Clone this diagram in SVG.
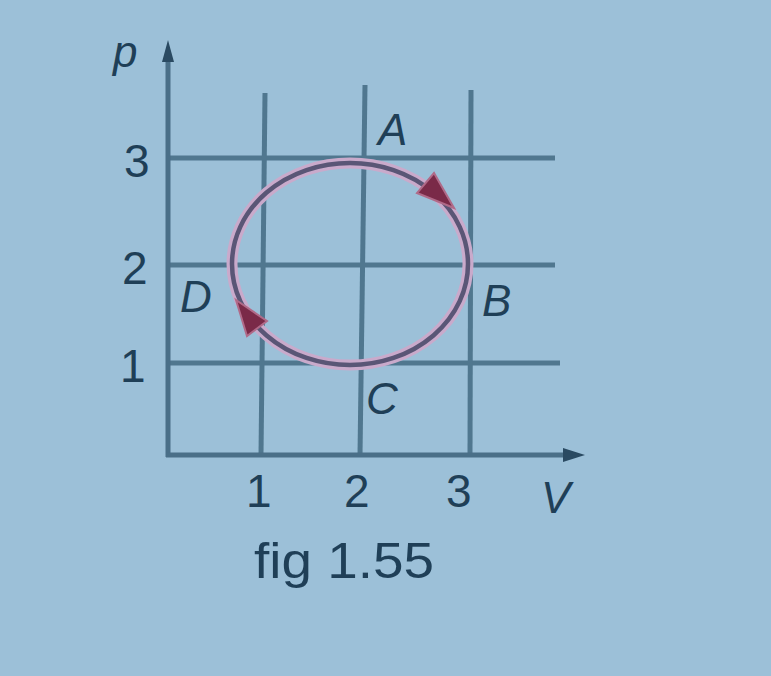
<svg xmlns="http://www.w3.org/2000/svg" width="771" height="676" viewBox="0 0 771 676">
<style>
.grid{stroke:#50778f;stroke-width:5;fill:none;stroke-linecap:butt}
.axis{stroke:#4a6f88;stroke-width:5;fill:none}
.t{font-family:"Liberation Sans",Arial,sans-serif;fill:#1f3f57}
.num{font-size:46px}
.lbl{font-size:44px;font-style:italic}
.cap{font-size:50px}
.arrow{fill:#7a2a48;stroke:#b06a88;stroke-width:2}
</style>
<rect x="0" y="0" width="771" height="676" fill="#9cc0d8"/>
<g id="grid">
<line class="grid" x1="168" y1="158" x2="555" y2="158"/>
<line class="grid" x1="168" y1="265" x2="555" y2="265"/>
<line class="grid" x1="168" y1="363" x2="560" y2="363"/>
<line class="grid" x1="265" y1="93" x2="261" y2="455"/>
<line class="grid" x1="365" y1="85" x2="360" y2="455"/>
<line class="grid" x1="471" y1="90" x2="470" y2="455"/>
</g>
<g id="axes">
<line class="axis" x1="168" y1="55" x2="168" y2="457"/>
<line class="axis" x1="166" y1="455" x2="575" y2="455"/>
<polygon points="168,40 162,62 174,62" fill="#2a4a62"/>
<polygon points="585,455 563,448 563,462" fill="#2a4a62"/>
</g>
<g id="cycle">
<ellipse cx="350" cy="264" rx="118" ry="101" fill="none" stroke="#c9aacb" stroke-width="11"/>
<ellipse cx="350" cy="264" rx="118" ry="101" fill="none" stroke="#5a5676" stroke-width="4.5"/>
<polygon class="arrow" points="454,208 417,193 434,173"/>
<polygon class="arrow" points="236,300 267,321 247,336"/>
</g>
<g id="labels">
<text class="t lbl" x="113" y="67">p</text>
<text class="t num" x="124" y="177">3</text>
<text class="t num" x="122" y="284">2</text>
<text class="t num" x="120" y="382">1</text>
<text class="t lbl" x="378" y="145">A</text>
<text class="t lbl" x="482" y="316">B</text>
<text class="t lbl" x="366" y="414">C</text>
<text class="t lbl" x="180" y="312">D</text>
<text class="t num" x="246" y="507">1</text>
<text class="t num" x="344" y="507">2</text>
<text class="t num" x="446" y="507">3</text>
<text class="t lbl" x="541" y="513">V</text>
<text class="t cap" x="254" y="578" textLength="180" lengthAdjust="spacingAndGlyphs">fig 1.55</text>
</g>
</svg>
